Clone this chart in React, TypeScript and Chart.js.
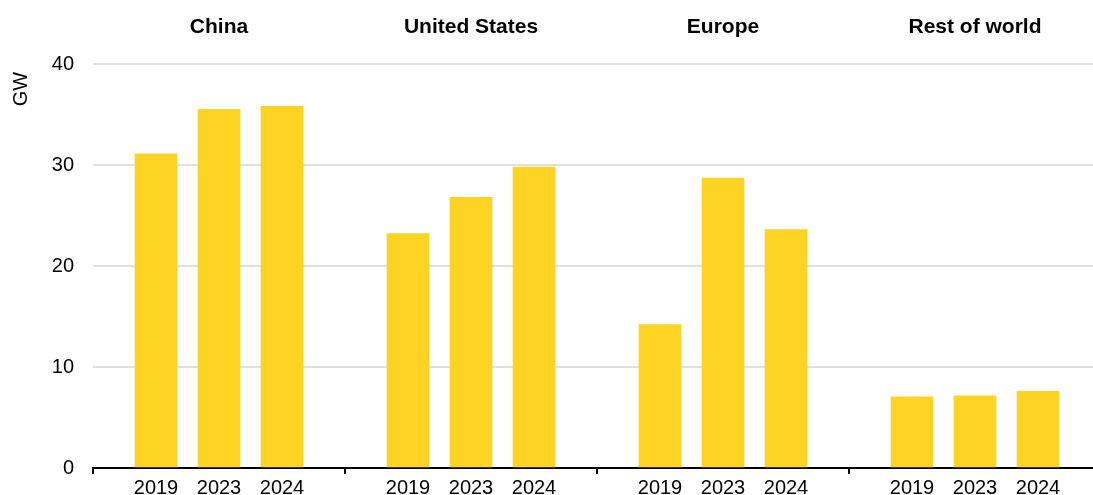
import React, { useEffect, useRef } from "react";
import { Chart, registerables } from "chart.js";

Chart.register(...registerables);

const regions = ["China", "United States", "Europe", "Rest of world"];
const years = ["2019", "2023", "2024"];
const china = [31.1, 35.5, 35.8];
const unitedStates = [23.2, 26.8, 29.8];
const europe = [14.2, 28.7, 23.6];
const restOfWorld = [7.05, 7.15, 7.6];
const yTicks = [0, 10, 20, 30, 40];
const unitLabel = "GW";

const seriesByRegion = [china, unitedStates, europe, restOfWorld];
const SLOTS = 4; // slots per region group (3 bars + gap)
const X_MAX = 1000 / 63;
const FONT = "'Liberation Sans', Arial, Helvetica, sans-serif";

const unitTitlePlugin = {
  id: "unitTitle",
  afterDraw(chart: any) {
    const ctx = chart.ctx;
    ctx.save();
    ctx.translate(21, 89);
    ctx.rotate(-Math.PI / 2);
    ctx.fillStyle = "#000";
    ctx.font = `20px ${FONT}`;
    ctx.textAlign = "center";
    ctx.textBaseline = "middle";
    ctx.fillText(unitLabel, 0, 0);
    ctx.restore();
  },
};

export default function App() {
  const ref = useRef<HTMLCanvasElement | null>(null);

  useEffect(() => {
    if (!ref.current) return;
    const points: { x: number; y: number }[] = [];
    seriesByRegion.forEach((vals, gi) => {
      vals.forEach((v, j) => points.push({ x: gi * SLOTS + j + 1, y: v }));
    });
    const labelAt = (v: number) => {
      const gi = Math.floor(v / SLOTS);
      const j = v - gi * SLOTS - 1;
      return j >= 0 && j < years.length && Number.isInteger(v) ? years[j] : "";
    };

    const chart = new Chart(ref.current, {
      type: "bar",
      data: {
        datasets: [
          {
            label: unitLabel,
            data: points,
            backgroundColor: "#FDD324",
            borderWidth: 0,
            barThickness: 42,
          },
        ],
      },
      options: {
        animation: false,
        responsive: true,
        maintainAspectRatio: false,
        devicePixelRatio: 1,
        layout: { padding: 0 },
        plugins: { legend: { display: false }, tooltip: { enabled: false } },
        scales: {
          x: {
            type: "linear",
            position: "bottom",
            offset: false,
            min: 0,
            max: X_MAX,
            afterBuildTicks: (axis: any) => {
              const t: any[] = [];
              for (let v = 0; v <= 15; v++) t.push({ value: v });
              axis.ticks = t;
            },
            afterFit: (axis: any) => {
              axis.height = 27;
            },
            ticks: {
              autoSkip: false,
              maxRotation: 0,
              padding: 2,
              color: "#000",
              font: { family: FONT, size: 20 },
              callback: (v: any) => labelAt(Number(v)),
            },
            grid: {
              offset: false,
              drawOnChartArea: false,
              drawTicks: true,
              tickLength: 6,
              lineWidth: 2,
              color: (ctx: any) =>
                ctx.tick && ctx.tick.value % SLOTS === 0 ? "#000" : "rgba(0,0,0,0)",
            },
            border: { display: true, color: "#000", width: 2 },
          },
          xTop: {
            type: "linear",
            position: "top",
            offset: false,
            min: 0,
            max: X_MAX,
            afterBuildTicks: (axis: any) => {
              axis.ticks = regions.map((_, gi) => ({ value: gi * SLOTS + 2 }));
            },
            afterFit: (axis: any) => {
              axis.height = 64;
            },
            ticks: {
              autoSkip: false,
              maxRotation: 0,
              padding: 16,
              color: "#000",
              font: { family: FONT, size: 21, weight: "bold" },
              callback: (v: any) => regions[Math.round((Number(v) - 2) / SLOTS)] ?? "",
            },
            grid: { display: false, offset: false },
            border: { display: false },
          },
          y: {
            type: "linear",
            min: 0,
            max: 40,
            afterBuildTicks: (axis: any) => {
              axis.ticks = yTicks.map((v) => ({ value: v }));
            },
            afterFit: (axis: any) => {
              axis.width = 93;
              axis.paddingTop = 0;
              axis.paddingBottom = 0;
            },
            ticks: {
              padding: 19,
              color: "#000",
              font: { family: FONT, size: 20 },
            },
            grid: {
              color: "#e0e0e0",
              lineWidth: 2,
              drawTicks: false,
            },
            border: { display: false },
          },
        },
      },
      plugins: [unitTitlePlugin],
    } as any);
    return () => chart.destroy();
  }, []);

  return (
    <div style={{ position: "fixed", left: 0, top: 0, width: 1093, height: 495, background: "#fff" }}>
      <canvas ref={ref} style={{ display: "block" }} />
    </div>
  );
}
